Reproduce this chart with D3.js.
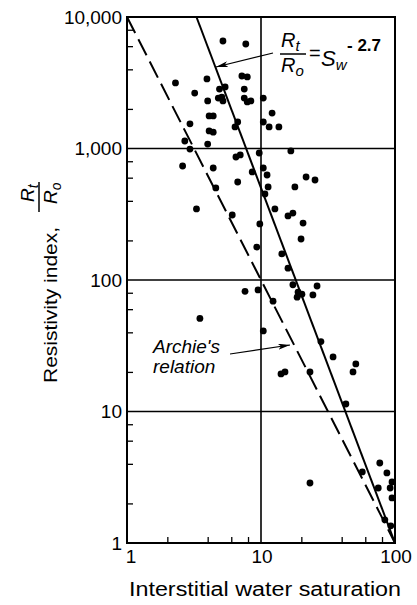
<!DOCTYPE html>
<html>
<head>
<meta charset="utf-8">
<script src="https://cdn.jsdelivr.net/npm/d3@7"></script>
<style>
  html, body { margin: 0; padding: 0; background: #fff; }
  svg { display: block; }
</style>
</head>
<body>
<svg id="chart" width="417" height="605"></svg>
<script>
// ---- data ----
const swValues = [5.2, 7.7, 2.3, 3.95, 7.2, 7.9, 4.9, 5.4, 7.5, 3.2,
  4.0, 4.8, 5.1, 5.2, 7.5, 7.9, 8.4, 10.4, 12.1, 10.4,
  11.5, 13.6, 4.1, 4.4, 2.95, 4.1, 4.4, 6.7, 6.4, 2.7,
  4.0, 2.95, 2.6, 4.4, 6.5, 7.0, 8.6, 6.7, 4.6, 9.7,
  10.4, 11.1, 16.7, 21.7, 25.3, 17.9, 11.3, 10.7, 12.7, 15.9,
  17.3, 20.6, 19.9, 9.8, 9.3, 14.3, 15.9, 17.3, 26.2, 18.9,
  20.2, 18.6, 24.4, 7.6, 9.5, 12.3, 3.3, 6.1, 3.5, 10.4,
  28, 34.5, 51, 48.6, 23.2, 14.1, 15.1, 43, 23.2, 77,
  87, 95, 75, 92, 95, 57, 84, 93];
const riValues = [6570, 6230, 3150, 3380, 3560, 3500, 2830, 2940, 2830, 2640,
  2300, 2420, 2460, 2300, 2420, 2260, 2300, 2420, 1860, 1590,
  1460, 1460, 1770, 1770, 1540, 1360, 1330, 1590, 1460, 1140,
  1080, 990, 736, 711, 862, 893, 663, 556, 501, 924,
  711, 629, 958, 607, 576, 510, 510, 451, 347, 307,
  323, 271, 205, 267, 178, 158, 123, 92, 90, 81,
  78, 74, 77, 82, 84, 69, 347, 312, 51, 41,
  34, 26, 23, 20, 20, 19.3, 20, 11.4, 2.86, 4.06,
  3.41, 2.91, 2.62, 2.62, 2.2, 3.47, 1.5, 1.35];

const xTickValues = [1, 10, 100];
const xTickLabels = ["1", "10", "100"];
const yTickValues = [1, 10, 100, 1000, 10000];
const yTickLabels = ["1", "10", "100", "1,000", "10,000"];
const xMinorTicks = [2, 4, 6, 8, 20, 40, 60, 80];
const yMinorTicks = [2, 4, 6, 8, 20, 40, 60, 80, 200, 400, 600, 800, 2000, 4000, 6000, 8000];
const xGrid = [10];
const yGrid = [10, 100, 1000];

// Fitted line Rt/Ro = Sw^-2.7 and Archie's relation Sw^-2 (Sw in percent)
const fitExponent = 2.7;
const archieExponent = 2;
const swDomain = [1, 100];
const riDomain = [1, 10000];

// ---- layout ----
const svg = d3.select("#chart");
const L = 127, R = 395, T = 17, B = 543;
const x = d3.scaleLog().domain(swDomain).range([L, R]);
const y = d3.scaleLog().domain(riDomain).range([B, T]);
const font = "'Liberation Sans', Arial, Helvetica, sans-serif";

// grid
svg.append("g").selectAll("line").data(xGrid).join("line")
  .attr("x1", d => x(d)).attr("x2", d => x(d)).attr("y1", T).attr("y2", B)
  .attr("stroke", "#000").attr("stroke-width", 1.6);
svg.append("g").selectAll("line").data(yGrid).join("line")
  .attr("x1", L).attr("x2", R).attr("y1", d => y(d)).attr("y2", d => y(d))
  .attr("stroke", "#000").attr("stroke-width", 1.6);

// minor ticks (inward)
const xAx = svg.append("g").attr("transform", `translate(0,${B})`)
  .call(d3.axisBottom(x).tickValues(xMinorTicks).tickSize(-6).tickFormat(""));
const yAx = svg.append("g").attr("transform", `translate(${L},0)`)
  .call(d3.axisLeft(y).tickValues(yMinorTicks).tickSize(-6).tickFormat(""));
[xAx, yAx].forEach(g => {
  g.select(".domain").remove();
  g.selectAll(".tick line").attr("stroke", "#000").attr("stroke-width", 1.3);
});

// frame
svg.append("rect").attr("x", L).attr("y", T).attr("width", R - L).attr("height", B - T)
  .attr("fill", "none").attr("stroke", "#000").attr("stroke-width", 2);

// tick labels
svg.append("g").selectAll("text").data(yTickValues).join("text")
  .attr("x", L - 5).attr("y", d => y(d)).attr("dy", "0.36em")
  .attr("text-anchor", "end").attr("font-family", font).attr("font-size", 19)
  .text((d, i) => yTickLabels[i]);
svg.append("g").selectAll("text").data(xTickValues).join("text")
  .attr("x", d => x(d)).attr("dx", (d, i) => i === 0 ? 4 : 1).attr("y", 563)
  .attr("text-anchor", "middle").attr("font-family", font).attr("font-size", 19)
  .text((d, i) => xTickLabels[i]);

// axis titles
svg.append("text").attr("x", 265).attr("y", 596).attr("text-anchor", "middle")
  .attr("font-family", font).attr("font-size", 20)
  .attr("textLength", 272).attr("lengthAdjust", "spacingAndGlyphs")
  .text("Interstitial water saturation");

const yt = svg.append("g").attr("transform", "rotate(-90)");
yt.append("text").attr("x", -305).attr("y", 57).attr("text-anchor", "middle")
  .attr("font-family", font).attr("font-size", 19)
  .attr("textLength", 156).attr("lengthAdjust", "spacingAndGlyphs")
  .text("Resistivity index,");
const ytNum = yt.append("text").attr("x", -202).attr("y", 34)
  .attr("font-family", font).attr("font-size", 19).attr("font-style", "italic");
ytNum.append("tspan").text("R");
ytNum.append("tspan").attr("font-size", 14).attr("dy", 4).text("t");
yt.append("line").attr("x1", -212).attr("x2", -182).attr("y1", 39).attr("y2", 39)
  .attr("stroke", "#000").attr("stroke-width", 1.5);
const ytDen = yt.append("text").attr("x", -204).attr("y", 57)
  .attr("font-family", font).attr("font-size", 19).attr("font-style", "italic");
ytDen.append("tspan").text("R");
ytDen.append("tspan").attr("font-size", 14).attr("dy", 4).text("o");

// lines
const fitLine = [[100 * Math.pow(riDomain[1], -1 / fitExponent), riDomain[1]], [100, 1]];
const archieLine = [[1, riDomain[1]], [100, 1]];
const lineGen = d3.line().x(d => x(d[0])).y(d => y(d[1]));
svg.append("path").attr("d", lineGen(fitLine)).attr("fill", "none")
  .attr("stroke", "#000").attr("stroke-width", 2);
svg.append("path").attr("d", lineGen(archieLine)).attr("fill", "none")
  .attr("stroke", "#000").attr("stroke-width", 2).attr("stroke-dasharray", "18,7");

// points
svg.append("g").selectAll("circle").data(swValues.map((s, i) => [s, riValues[i]])).join("circle")
  .attr("cx", d => x(d[0])).attr("cy", d => y(d[1])).attr("r", 3.4).attr("fill", "#000");

// arrows
svg.append("defs").append("marker").attr("id", "arr").attr("viewBox", "0 0 12 6")
  .attr("refX", 12).attr("refY", 3).attr("markerWidth", 12).attr("markerHeight", 6)
  .attr("markerUnits", "userSpaceOnUse").attr("orient", "auto")
  .append("path").attr("d", "M0,0 L12,3 L0,6 L3,3 Z").attr("fill", "#000");
svg.append("line").attr("x1", 273).attr("y1", 53).attr("x2", 216).attr("y2", 67)
  .attr("stroke", "#000").attr("stroke-width", 1.2).attr("marker-end", "url(#arr)");
svg.append("line").attr("x1", 230).attr("y1", 354).attr("x2", 290).attr("y2", 345)
  .attr("stroke", "#000").attr("stroke-width", 1.2).attr("marker-end", "url(#arr)");

// annotations
const eqNum = svg.append("text").attr("x", 281).attr("y", 47)
  .attr("font-family", font).attr("font-size", 20).attr("font-style", "italic");
eqNum.append("tspan").text("R");
eqNum.append("tspan").attr("font-size", 15).attr("dy", 4).text("t");
svg.append("line").attr("x1", 280).attr("x2", 306).attr("y1", 54).attr("y2", 54)
  .attr("stroke", "#000").attr("stroke-width", 1.5);
const eqDen = svg.append("text").attr("x", 281).attr("y", 72)
  .attr("font-family", font).attr("font-size", 20).attr("font-style", "italic");
eqDen.append("tspan").text("R");
eqDen.append("tspan").attr("font-size", 15).attr("dy", 4).text("o");
svg.append("text").attr("x", 309).attr("y", 60).attr("font-family", font).attr("font-size", 20).text("=");
const eqR = svg.append("text").attr("x", 321).attr("y", 66)
  .attr("font-family", font).attr("font-size", 22).attr("font-style", "italic");
eqR.append("tspan").text("S");
eqR.append("tspan").attr("font-size", 15).attr("dy", 4).text("w");
svg.append("text").attr("x", 347).attr("y", 51).attr("font-family", font)
  .attr("font-size", 17).attr("font-weight", "bold").text("- 2.7");

svg.append("text").attr("x", 153).attr("y", 353).attr("font-family", font)
  .attr("font-size", 19).attr("font-style", "italic").text("Archie's");
svg.append("text").attr("x", 153).attr("y", 373).attr("font-family", font)
  .attr("font-size", 19).attr("font-style", "italic").text("relation");
</script>
</body>
</html>
